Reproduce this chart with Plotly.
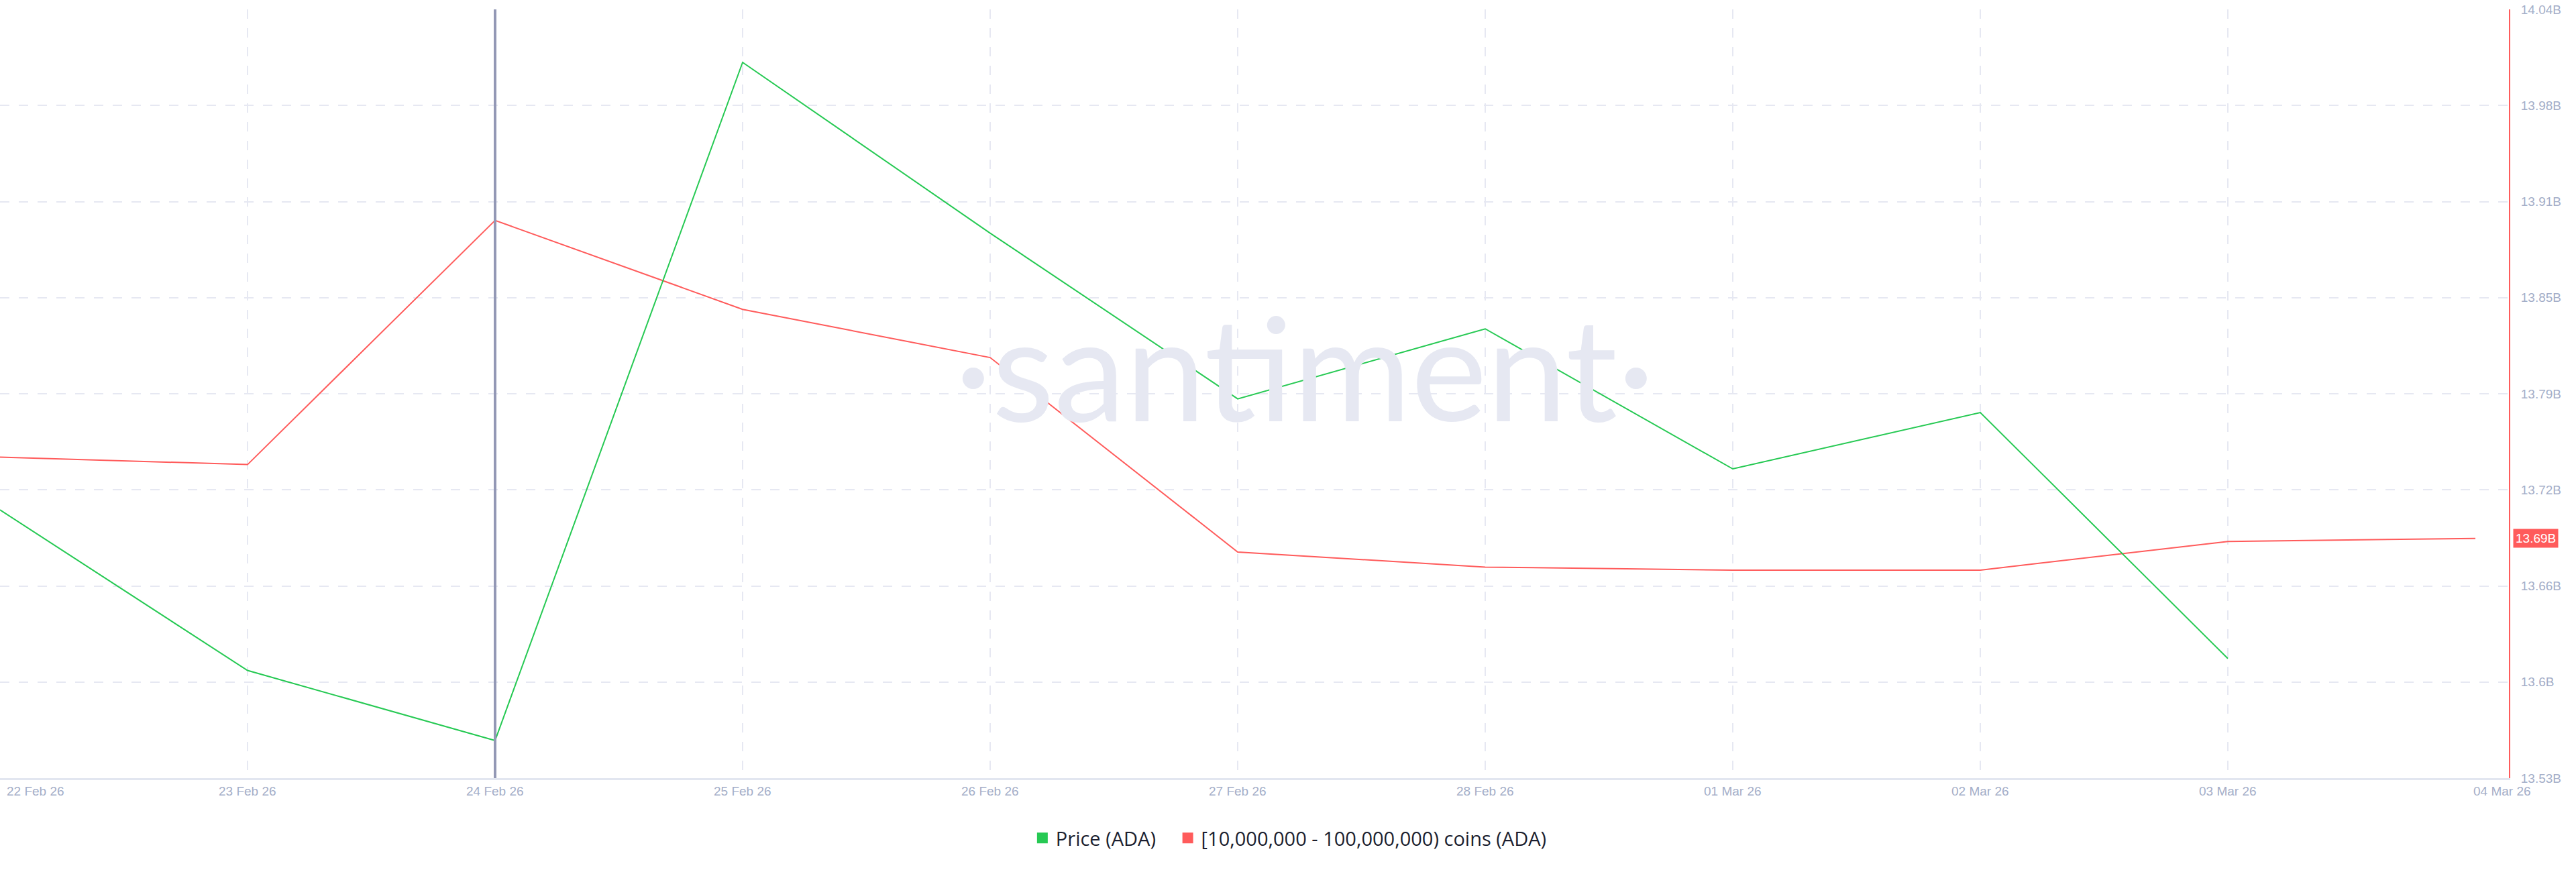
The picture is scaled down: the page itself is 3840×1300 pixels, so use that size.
import numpy as np
import plotly.graph_objects as go

# ---------------- data ----------------
dates = ["2026-02-22", "2026-02-23", "2026-02-24", "2026-02-25", "2026-02-26",
         "2026-02-27", "2026-02-28", "2026-03-01", "2026-03-02", "2026-03-03",
         "2026-03-04"]
date_labels = ["22 Feb 26", "23 Feb 26", "24 Feb 26", "25 Feb 26", "26 Feb 26",
               "27 Feb 26", "28 Feb 26", "01 Mar 26", "02 Mar 26", "03 Mar 26",
               "04 Mar 26"]

# Price (ADA), USD (hidden left axis)
price_dates = dates[:10]
price_values = [0.2707, 0.2613, 0.2572, 0.2969, 0.2869, 0.2772, 0.2813, 0.2731,
                0.2764, 0.2620]

# [10,000,000 - 100,000,000) coins (ADA), billions
holders_dates = dates
holders_values = [13.743, 13.738, 13.900, 13.841, 13.809, 13.680, 13.670, 13.668,
                  13.668, 13.687, 13.689]

y_tick_labels = ["13.53B", "13.6B", "13.66B", "13.72B", "13.79B", "13.85B",
                 "13.91B", "13.98B", "14.04B"]
y_range = [13.53, 14.04]
price_range = [0.255, 0.300]
last_label = "13.69B"
crosshair_date = "2026-02-24"
series_names = ["Price (ADA)", "[10,000,000 - 100,000,000) coins (ADA)"]

GREEN = "#26c953"
RED = "#ff5b5b"
GRID = "#e6e8f2"
TICK = "#a4aec8"

fig = go.Figure()

fig.add_trace(go.Scatter(x=holders_dates, y=holders_values, mode="lines",
                         line=dict(color=RED, width=2), yaxis="y",
                         showlegend=False, hoverinfo="skip"))
fig.add_trace(go.Scatter(x=price_dates, y=price_values, mode="lines",
                         line=dict(color=GREEN, width=2), yaxis="y2",
                         showlegend=False, hoverinfo="skip"))

# legend entries (square swatches)
fig.add_trace(go.Scatter(x=[None], y=[None], mode="markers",
                         name=series_names[0] + "\u00a0\u00a0\u00a0",
                         marker=dict(symbol="square", size=16, color=GREEN)))
fig.add_trace(go.Scatter(x=[None], y=[None], mode="markers",
                         name=series_names[1],
                         marker=dict(symbol="square", size=16, color=RED)))

tickvals = list(np.linspace(y_range[0], y_range[1], len(y_tick_labels)))

x_end = np.datetime64(dates[-1]) + np.timedelta64(195, "m")

fig.update_layout(
    width=3840, height=1300, autosize=False,
    margin=dict(l=0, r=100, t=14, b=140),
    paper_bgcolor="white", plot_bgcolor="white",
    xaxis=dict(
        type="date",
        range=[dates[0], str(x_end)],
        tickvals=dates[:10],
        showticklabels=False,
        showgrid=True, gridcolor=GRID, gridwidth=2, griddash="14px,14px",
        showline=True, linecolor="#e2e6f0", linewidth=3,
        zeroline=False, ticks="",
    ),
    yaxis=dict(
        side="right", range=y_range,
        tickvals=tickvals, ticktext=y_tick_labels,
        tickfont=dict(family="Liberation Sans, Arial", size=19, color=TICK),
        ticklabelstandoff=12,
        showgrid=True, gridcolor=GRID, gridwidth=2, griddash="14px,14px",
        showline=True, linecolor=RED, linewidth=2,
        zeroline=False, ticks="",
    ),
    yaxis2=dict(
        overlaying="y", side="left", range=price_range, visible=False,
        showgrid=False, zeroline=False,
    ),
    legend=dict(
        orientation="h", x=0.514, xanchor="center", y=-0.078, yanchor="middle",
        font=dict(family="Open Sans", size=29, color="#1c1f30"),
        bgcolor="rgba(0,0,0,0)", itemwidth=30,
    ),
    showlegend=True,
)

# x tick labels
for i, (d, lab) in enumerate(zip(dates, date_labels)):
    if i == 0:
        xa, xs = "left", 8
    elif i == len(dates) - 1:
        xa, xs = "center", 40
    else:
        xa, xs = "center", 0
    fig.add_annotation(x=d, xref="x", y=-0.0166, yref="paper", yanchor="middle",
                       xanchor=xa, xshift=xs, text=lab, showarrow=False,
                       font=dict(family="Liberation Sans, Arial", size=19, color=TICK))

# last value badge
fig.add_annotation(x=1, xref="paper", y=holders_values[-1], yref="y",
                   xanchor="left", yanchor="middle", xshift=6,
                   text=last_label, showarrow=False, bgcolor=RED, borderpad=3,
                   font=dict(family="Liberation Sans, Arial", size=19, color="white"))

# watermark
fig.add_annotation(x=0.52, xref="paper", y=0.536, yref="paper",
                   xanchor="center", yanchor="middle", text="·santiment·",
                   showarrow=False,
                   font=dict(family="Lato", size=214, color="#e6e8f2"))

# crosshair
fig.add_shape(type="line", x0=crosshair_date, x1=crosshair_date, xref="x",
              y0=0, y1=1, yref="paper", line=dict(color="#9398b5", width=4),
              layer="above")

fig.write_html("out.html",
               config={"displayModeBar": False},
               post_script="document.body.style.margin='0';"
                           "document.body.style.overflow='hidden';")
